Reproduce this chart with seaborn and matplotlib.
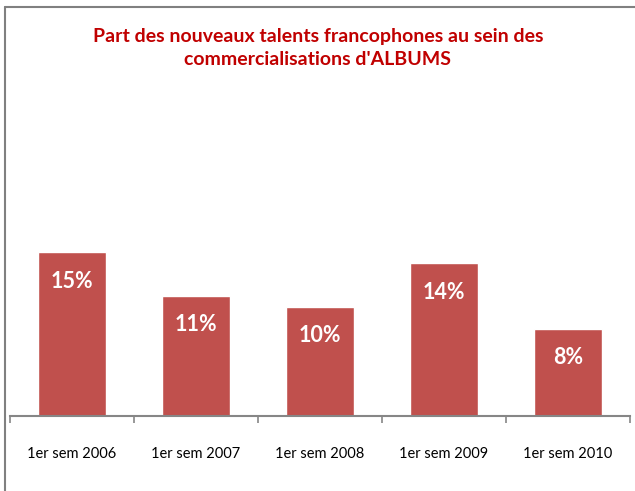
import matplotlib
matplotlib.use("Agg")
import matplotlib.pyplot as plt
from matplotlib.lines import Line2D
import seaborn as sns
import pandas as pd

# data
periods = ["1er sem 2006", "1er sem 2007", "1er sem 2008", "1er sem 2009", "1er sem 2010"]
shares = [15, 11, 10, 14, 8]

df = pd.DataFrame({"periode": periods, "part": shares})

sns.set_style("white")
plt.rcParams["font.family"] = ["Lato", "DejaVu Sans"]

fig = plt.figure(figsize=(6.35, 4.91), dpi=100)
ax = fig.add_axes([10 / 635, 75 / 491, 620 / 635, 316 / 491])

sns.barplot(data=df, x="periode", y="part", color="#C0504D", saturation=1,
            width=0.55, ax=ax)

# value labels inside the bars
for i, v in enumerate(shares):
    ax.annotate(f"{v}%", (i, v), xytext=(0, -21), textcoords="offset points",
                ha="center", va="center", color="white", fontsize=15.5, fontweight="bold")

ax.set_ylim(0, 316 / 10.93)
ax.set_xlim(-0.5, len(periods) - 0.5)
ax.set_xlabel("")
ax.set_ylabel("")
ax.set_yticks([])

for s in ["top", "right", "left"]:
    ax.spines[s].set_visible(False)
ax.spines["bottom"].set_color("#868686")
ax.spines["bottom"].set_linewidth(1.5)

ax.tick_params(axis="x", which="major", bottom=True, length=0, pad=22,
               labelsize=10.5, labelcolor="#000000")
ax.set_xticks([i - 0.5 for i in range(len(periods) + 1)], minor=True)
ax.tick_params(axis="x", which="minor", bottom=True, length=5, width=1.2,
               color="#868686", direction="out")

# chart frame (left and top edges)
fig.add_artist(Line2D([5 / 635, 5 / 635], [0, 484 / 491], color="#808080", lw=1.5))
fig.add_artist(Line2D([5 / 635, 1], [484 / 491, 484 / 491], color="#808080", lw=1.5))

fig.text(318 / 635, 1 - 48 / 491,
         "Part des nouveaux talents francophones au sein des\ncommercialisations d'ALBUMS",
         ha="center", va="center", color="#C00000", fontsize=14, fontweight="bold",
         linespacing=1.4)

fig.savefig("out.png", dpi=100)
